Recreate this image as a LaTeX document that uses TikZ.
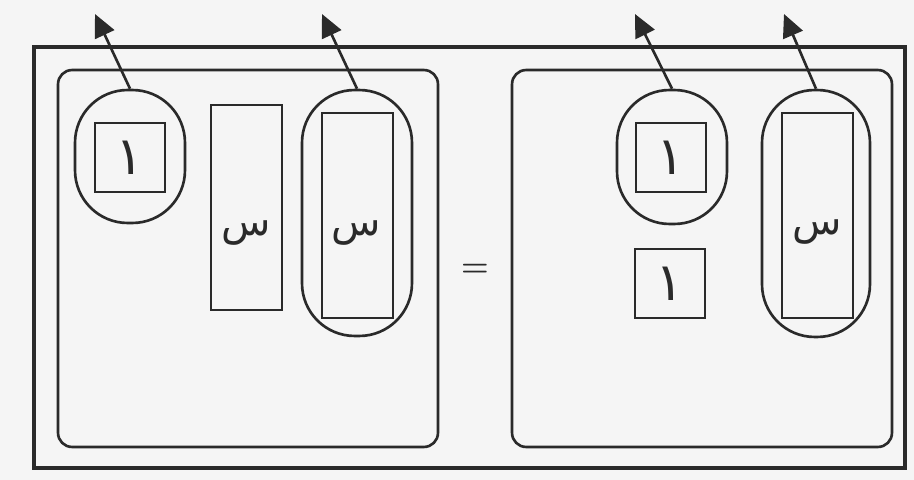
\documentclass[tikz,border=0pt]{standalone}
\usepackage{fontspec}
\usepackage{xcolor}
\usepackage{tikz}
\usetikzlibrary{arrows.meta, positioning, calc}
\newfontfamily\arabicfont[Script=Arabic]{DejaVu Sans}
\TeXXeTstate=1
\definecolor{paper}{HTML}{F5F5F5}
\definecolor{ink}{HTML}{2A2A2A}

\begin{document}
\begin{tikzpicture}[
    x=0.02cm, y=-0.02cm,
    frame/.style={rectangle, draw=ink, line width=2.4pt, inner sep=0pt, minimum width=17.42cm, minimum height=8.42cm},
    panel/.style={rectangle, draw=ink, line width=1.5pt, rounded corners=8pt, inner sep=0pt, minimum width=7.6cm, minimum height=7.54cm},
    unit/.style={rectangle, draw=ink, line width=1.6pt, inner sep=0pt, minimum width=1.4cm, minimum height=1.38cm, text=ink, font=\arabicfont\fontsize{30}{34}\selectfont},
    xbar/.style={rectangle, draw=ink, line width=1.6pt, inner sep=0pt, minimum width=1.42cm, minimum height=4.1cm},
    letter/.style={inner sep=0pt, text=ink, font=\arabicfont\fontsize{23}{28}\selectfont},
    ring/.style={rectangle, draw=ink, line width=1.5pt, inner sep=0pt, rounded corners=30pt, minimum width=2.2cm},
    arr/.style={-{Triangle[length=13pt, width=12pt]}, line width=1.5pt, color=ink}
]

% Background and outer frame
\fill[paper] (0,0) rectangle (914,480);
\node[frame] (board) at (469.5,257.5) {};

% Left side of the equation
\node[panel] (lhs) at (248,258.5) {};
\node[ring, minimum height=2.66cm] (lring1) at (130,156.5) {};
\node[unit] (lone) at (130,157.5) {\beginR ١\endR};
\node[xbar] (lx1) at (246.5,207.5) {};
\node[letter] (lx1t) at ($(lx1)+(0,26)$) {\beginR س\endR};
\node[ring, minimum height=4.92cm] (lring2) at (357,213) {};
\node[xbar] (lx2) at (357.5,215.5) {};
\node[letter] (lx2t) at ($(lx2)+(-1,18)$) {\beginR س\endR};

% Equals sign
\node[font=\bfseries\fontsize{18}{22}\selectfont, text=ink] (eq) at (475,270) {=};

% Right side of the equation
\node[panel] (rhs) at (702,258.5) {};
\node[ring, minimum height=2.68cm] (rring1) at (672,157) {};
\node[unit] (rone1) at (671,157.5) {\beginR ١\endR};
\node[unit] (rone2) at (670,283.5) {\beginR ١\endR};
\node[ring, minimum height=4.94cm, minimum width=2.16cm] (rring2) at (816,213.5) {};
\node[xbar] (rx) at (817.5,215.5) {};
\node[letter] (rxt) at ($(rx)+(0,17)$) {\beginR س\endR};

% Arrow ends above the frame
\coordinate (t1) at (95,14);
\coordinate (t2) at (322,14);
\coordinate (t3) at (635,14);
\coordinate (t4) at (784,14);

% Removal arrows
\draw[arr] (lring1.north) -- (t1);
\draw[arr] (lring2.north) -- (t2);
\draw[arr] (rring1.north) -- (t3);
\draw[arr] (rring2.north) -- (t4);

\end{tikzpicture}
\end{document}
